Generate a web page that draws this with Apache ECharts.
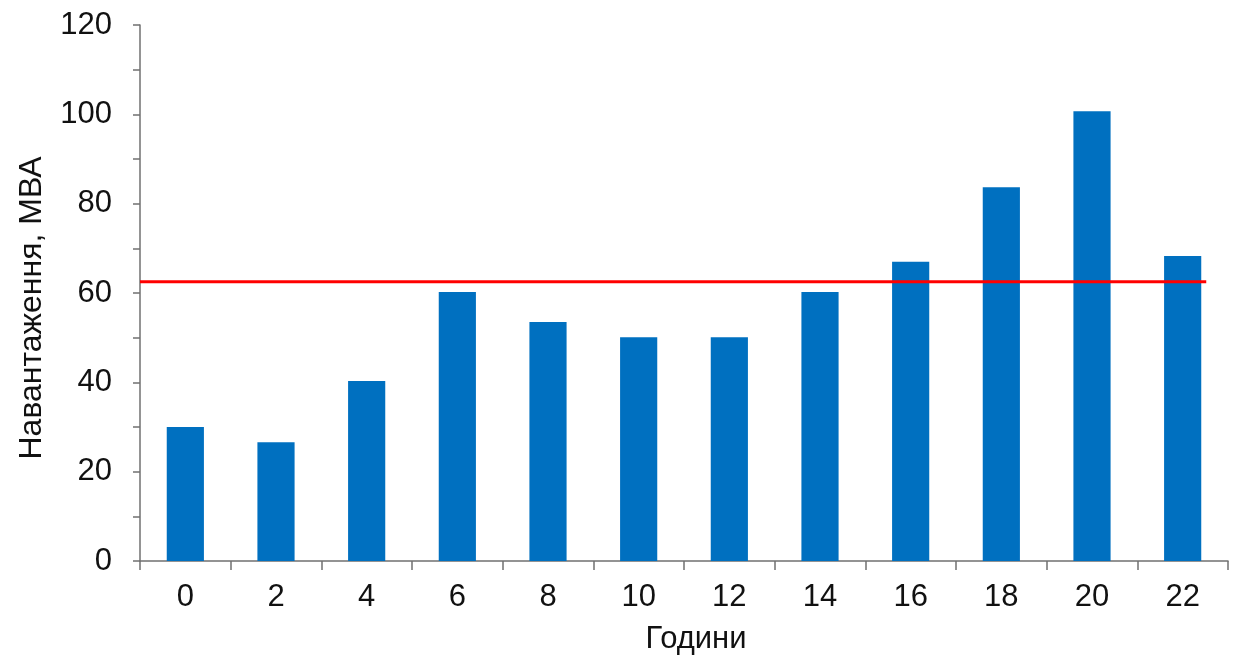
<!DOCTYPE html>
<html>
<head>
<meta charset="utf-8">
<script src="https://cdn.jsdelivr.net/npm/echarts@6/dist/echarts.min.js"></script>
<style>html,body{margin:0;padding:0;background:#fff}#c{width:1236px;height:660px}</style>
</head>
<body>
<div id="c"></div>
<script>
const hours = ['0','2','4','6','8','10','12','14','16','18','20','22'];
const loadMVA = [30.0, 26.6, 40.3, 60.2, 53.5, 50.1, 50.1, 60.2, 67.0, 83.7, 100.7, 68.3];
const limitValue = 62.5;
const limitSpan = [-0.5, 11.26];
const yTicks = [0, 20, 40, 60, 80, 100, 120];

const chart = echarts.init(document.getElementById('c'));
const font = 'Liberation Sans, Arial, sans-serif';
const axisColor = '#707070';
chart.setOption({
  animation: false,
  backgroundColor: '#fff',
  grid: {left: 140, right: 8, top: 25, bottom: 99},
  xAxis: [{
    type: 'category',
    data: hours,
    boundaryGap: true,
    name: 'Години',
    nameLocation: 'middle',
    nameGap: 63,
    nameTextStyle: {fontFamily: font, fontSize: 31, color: '#111', padding: [0, 0, 0, 24]},
    axisLine: {lineStyle: {color: axisColor, width: 1.5}},
    axisTick: {show: true, length: 9, lineStyle: {color: axisColor, width: 1.5}},
    axisLabel: {fontFamily: font, fontSize: 31, color: '#111', margin: 21}
  }, {
    type: 'value',
    min: -0.5, max: 11.5,
    show: false
  }],
  yAxis: {
    type: 'value',
    min: yTicks[0], max: yTicks[yTicks.length - 1], interval: 20,
    name: 'Навантаження, МВА',
    nameLocation: 'middle',
    nameGap: 92,
    nameTextStyle: {fontFamily: font, fontSize: 32, color: '#111', padding: [0, 30, 0, 0]},
    axisLine: {show: true, onZero: false, lineStyle: {color: axisColor, width: 1.5}},
    axisTick: {show: true, length: 7, lineStyle: {color: axisColor, width: 1.5}},
    minorTick: {show: true, splitNumber: 2, length: 7, lineStyle: {color: axisColor, width: 1.5}},
    splitLine: {show: false},
    axisLabel: {fontFamily: font, fontSize: 31, color: '#111', margin: 28}
  },
  series: [{
    type: 'bar',
    data: loadMVA,
    barWidth: '41%',
    itemStyle: {color: '#0070C0'},
    xAxisIndex: 0
  }, {
    type: 'line',
    xAxisIndex: 1,
    data: limitSpan.map(x => [x, limitValue]),
    symbol: 'none',
    lineStyle: {color: '#FF0000', width: 3},
    z: 5
  }]
});
</script>
</body>
</html>
